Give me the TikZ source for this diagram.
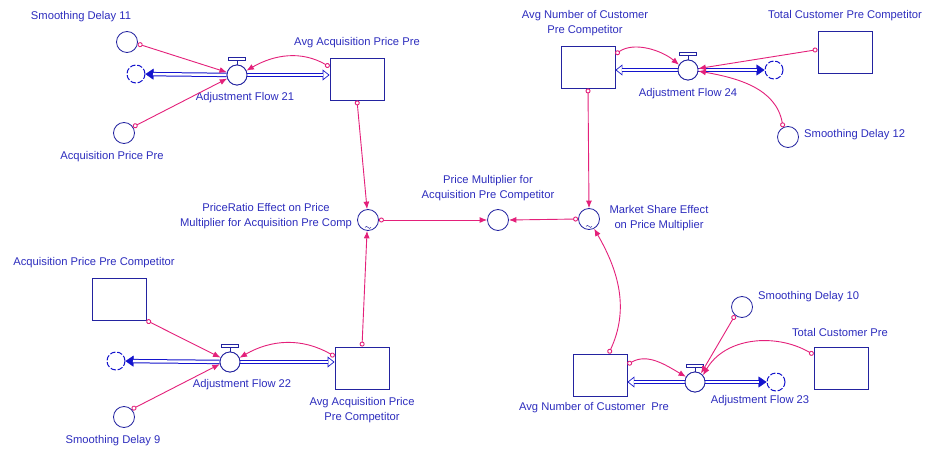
\documentclass[tikz,border=0pt]{standalone}
\usepackage{fontspec}
\setmainfont{Liberation Sans}
\usetikzlibrary{arrows.meta}
\definecolor{txtblue}{RGB}{45,45,190}
\definecolor{edgeblue}{RGB}{35,35,160}
\definecolor{pipeblue}{RGB}{20,20,205}
\definecolor{linkred}{RGB}{228,32,122}
\tikzset{
  lbl/.style={font=\fontsize{11.2}{15.5}\selectfont, text=txtblue, align=center, inner sep=0pt},
  stockbox/.style={rectangle, draw=edgeblue, fill=white, line width=0.9pt,
    minimum width=54pt, minimum height=42pt, inner sep=0pt},
  auxvar/.style={circle, draw=edgeblue, fill=white, line width=0.8pt,
    minimum size=21pt, inner sep=0pt},
  valvec/.style={circle, draw=edgeblue, fill=white, line width=0.8pt,
    minimum size=20pt, inner sep=0pt},
  cloudsrc/.style={circle, draw=pipeblue, line width=1pt,
    dash pattern=on 5.5pt off 1.8pt, minimum size=18pt, inner sep=0pt},
  pipe/.style={draw=pipeblue, line width=1pt, double=white, double distance=2.4pt},
  tipfill/.style={draw=pipeblue, line width=0.4pt,
    arrows={-Triangle[length=8pt,width=11pt,fill=pipeblue]}},
  tipopen/.style={draw=pipeblue, line width=0.7pt,
    arrows={-Triangle[length=7pt,width=11pt,fill=white]}},
  link/.style={draw=linkred, line width=0.9pt,
    arrows={Circle[open,length=5pt,width=5pt]-Latex[length=7.5pt,width=6pt]}},
  handle/.style={draw=edgeblue, line width=0.8pt}
}
\begin{document}
\begin{tikzpicture}[x=1pt,y=-1pt]
\useasboundingbox[fill=white] (0,0) rectangle (928,449);

% ---------- top-left sector ----------
\node[auxvar] (sd11) at (127,42) {};
\node[lbl] (sd11l) at (81,17) {Smoothing Delay 11};
\node[valvec] (v21) at (237,75) {};
\node[lbl] (v21l) at (245,98) {Adjustment Flow 21};
\node[cloudsrc] (c21) at (136,74) {};
\node[stockbox] (st1) at (357,79) {};
\node[lbl] (st1l) at (357,43) {Avg Acquisition Price Pre};
\node[auxvar] (app) at (124,133) {};
\node[lbl] (appl) at (112,157) {Acquisition Price Pre};

% ---------- centre ----------
\node[auxvar] (pr) at (368,220) {};
\node[lbl] (prl) at (266,216) {PriceRatio Effect on Price\\Multiplier for Acquisition Pre Comp};
\node[auxvar] (pm) at (498,220) {};
\node[lbl] (pml) at (488,188) {Price Multiplier for\\Acquisition Pre Competitor};
\node[auxvar] (ms) at (589,219) {};
\node[lbl] (msl) at (659,218) {Market Share Effect\\on Price Multiplier};

% ---------- top-right sector ----------
\node[stockbox] (st2) at (588,67) {};
\node[lbl] (st2l) at (585,23) {Avg Number of Customer\\Pre Competitor};
\node[valvec] (v24) at (688,70) {};
\node[lbl] (v24l) at (688,94) {Adjustment Flow 24};
\node[cloudsrc] (c24) at (774,70) {};
\node[stockbox] (st3) at (845,52) {};
\node[lbl] (st3l) at (845,16) {Total Customer Pre Competitor};
\node[auxvar] (sd12) at (788,137) {};
\node[lbl, anchor=west] (sd12l) at (804,135) {Smoothing Delay 12};

% ---------- bottom-left sector ----------
\node[stockbox] (st4) at (119,299) {};
\node[lbl] (st4l) at (94,263) {Acquisition Price Pre Competitor};
\node[valvec] (v22) at (230,362) {};
\node[lbl] (v22l) at (242,385) {Adjustment Flow 22};
\node[cloudsrc] (c22) at (116,361) {};
\node[stockbox] (st5) at (362,368) {};
\node[lbl] (st5l) at (362,410) {Avg Acquisition Price\\Pre Competitor};
\node[auxvar] (sd9) at (124,417) {};
\node[lbl] (sd9l) at (113,441) {Smoothing Delay 9};

% ---------- bottom-right sector ----------
\node[stockbox] (st6) at (600,375) {};
\node[lbl] (st6l) at (594,408) {Avg Number of Customer\ \ Pre};
\node[valvec] (v23) at (695,382) {};
\node[lbl] (v23l) at (760,401) {Adjustment Flow 23};
\node[cloudsrc] (c23) at (776,382) {};
\node[stockbox] (st7) at (841,368) {};
\node[lbl] (st7l) at (840,332) {Total Customer Pre};
\node[auxvar] (sd10) at (742,307) {};
\node[lbl, anchor=west] (sd10l) at (758,297) {Smoothing Delay 10};

% ---------- flow pipes (arrow heads first, pipes on top) ----------
\draw[tipopen] (v21) -- (st1.west |- v21);
\draw[pipe, shorten >=6.5pt] (v21) -- (st1.west |- v21);
\draw[tipfill] (v21) -- (c21);
\draw[pipe, shorten >=7.5pt] (v21) -- (c21);

\draw[tipopen] (v24) -- (st2.east |- v24);
\draw[pipe, shorten >=6.5pt] (v24) -- (st2.east |- v24);
\draw[tipfill] (v24) -- (c24);
\draw[pipe, shorten >=7.5pt] (v24) -- (c24);

\draw[tipopen] (v22) -- (st5.west |- v22);
\draw[pipe, shorten >=6.5pt] (v22) -- (st5.west |- v22);
\draw[tipfill] (v22) -- (c22);
\draw[pipe, shorten >=7.5pt] (v22) -- (c22);

\draw[tipopen] (v23) -- (st6.east |- v23);
\draw[pipe, shorten >=6.5pt] (v23) -- (st6.east |- v23);
\draw[tipfill] (v23) -- (c23);
\draw[pipe, shorten >=7.5pt] (v23) -- (c23);

% valves redrawn over the pipe ends, with their handles
\foreach \v in {v21,v22,v23,v24}{
  \draw[edgeblue, fill=white, line width=0.8pt] (\v) circle[radius=10pt];
  \draw[handle] (\v.north) -- ++(0,-4);
  \draw[handle, fill=white] ([xshift=-8.5pt,yshift=4pt]\v.north) rectangle ++(17,-3);
}

% lookup marks inside the two effect variables
\foreach \a in {pr,ms}{
  \draw[edgeblue, line width=0.5pt] ([xshift=-3pt,yshift=3.5pt]\a.south)
    sin ++(1.5,-1) cos ++(1.5,1) sin ++(1.5,1) cos ++(1.5,-1);
}

% ---------- information links ----------
\draw[link] (sd11.-10) -- (v21.165);
\draw[link] (app.34) -- (v21.200);
\draw[link] (st1.156) to[out=150,in=30] (v21.25);
\draw[link] (st1.south) -- (pr.95);
\draw[link] (st5.north) -- (pr.-95);
\draw[link] (pr.east) -- (pm.west);
\draw[link] (ms.west) -- (pm.east);

\draw[link] (st2.south) -- (ms.north);
\draw[link] (st2.25) to[out=35,in=140,looseness=0.9] (v24.150);
\draw[link] (st3.175) -- (v24.8);
\draw[link] (sd12.117) to[out=100,in=-10] (v24.-6);

\draw[link] (st4.south east) -- (v22.155);
\draw[link] (sd9.45) -- (v22.192);
\draw[link] (st5.157) to[out=150,in=30] (v22.24);

\draw[link] (st6.68) to[out=65,in=-60] (ms.-62);
\draw[link] (st6.21) to[out=30,in=150] (v23.150);
\draw[link] (sd10.230) -- (v23.55);
\draw[link] (st7.154) to[out=150,in=60] (v23.40);
\end{tikzpicture}
\end{document}
